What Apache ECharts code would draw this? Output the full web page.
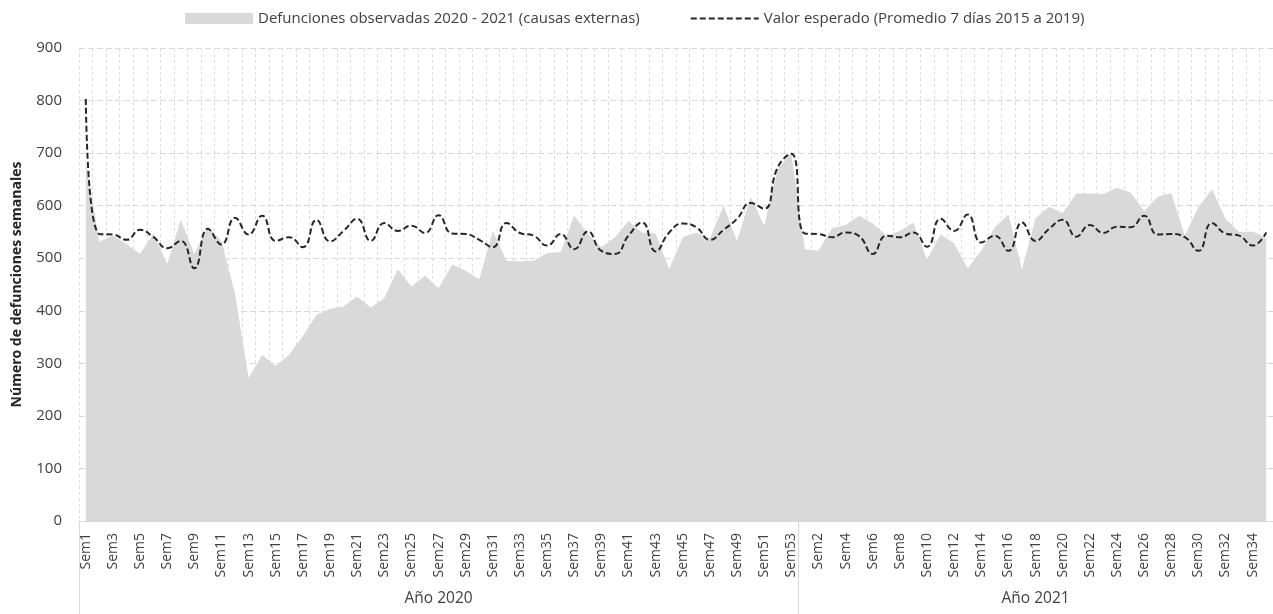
<!DOCTYPE html>
<html>
<head>
<meta charset="utf-8">
<script src="https://cdn.jsdelivr.net/npm/echarts@6/dist/echarts.min.js"></script>
<style>
  html, body { margin: 0; padding: 0; background: #fff; }
  #chart { width: 1273px; height: 614px; }
</style>
</head>
<body>
<div id="chart"></div>
<script>
// semanas epidemiologicas
const semanas2020 = ['Sem1','Sem2','Sem3','Sem4','Sem5','Sem6','Sem7','Sem8','Sem9','Sem10',
  'Sem11','Sem12','Sem13','Sem14','Sem15','Sem16','Sem17','Sem18','Sem19','Sem20',
  'Sem21','Sem22','Sem23','Sem24','Sem25','Sem26','Sem27','Sem28','Sem29','Sem30',
  'Sem31','Sem32','Sem33','Sem34','Sem35','Sem36','Sem37','Sem38','Sem39','Sem40',
  'Sem41','Sem42','Sem43','Sem44','Sem45','Sem46','Sem47','Sem48','Sem49','Sem50',
  'Sem51','Sem52','Sem53']
const semanas2021 = ['Sem1','Sem2','Sem3','Sem4','Sem5','Sem6','Sem7','Sem8','Sem9','Sem10',
  'Sem11','Sem12','Sem13','Sem14','Sem15','Sem16','Sem17','Sem18','Sem19','Sem20',
  'Sem21','Sem22','Sem23','Sem24','Sem25','Sem26','Sem27','Sem28','Sem29','Sem30',
  'Sem31','Sem32','Sem33','Sem34','Sem35']
const anios = ['Año 2020', 'Año 2021']

const observadas = [683,532,543,527,508,547,489,573,508,560,533,432,272,316,295,317,352,392,
  404,408,427,406,424,479,446,467,443,488,476,460,552,495,494,495,510,
  512,581,546,521,540,571,549,547,479,540,549,538,600,533,617,562,670,700,
  517,514,557,563,581,566,543,552,568,497,546,528,481,514,559,583,479,576,
  598,586,623,623,622,634,625,590,617,624,543,597,631,575,550,551,538]

const esperado = [803,546,545,535,554,540,519,533,481,556,526,577,545,581,533,540,521,573,
  532,552,575,533,567,552,562,548,582,547,546,535,521,567,548,543,524,
  546,517,551,514,508,543,568,513,549,566,559,535,554,575,605,594,673,699,
  547,546,540,549,542,508,543,540,549,522,575,552,583,530,543,514,568,533,
  556,573,541,563,548,560,559,581,545,546,540,514,567,547,543,524,549]

const categorias = semanas2020.concat(semanas2021)
const n2020 = semanas2020.length
const nTotal = categorias.length

const fuente = '"Open Sans", "Noto Sans", sans-serif'
const textColor = '#404040'

let chart = echarts.init(document.getElementById('chart'))

chart.setOption({
  animation: false,
  textStyle: { fontFamily: fuente, color: textColor },
  legend: {
    top: 11,
    left: 185,
    padding: 0,
    itemWidth: 68,
    itemHeight: 11,
    itemGap: 50,
    textStyle: { fontFamily: fuente, fontSize: 15, color: textColor },
    data: [
      { name: 'Defunciones observadas 2020 - 2021 (causas externas)', icon: 'rect' },
      // solo la linea discontinua, sin simbolo
      { name: 'Valor esperado (Promedio 7 días 2015 a 2019)', itemStyle: { opacity: 0 } }
    ]
  },
  grid: {
    left: 79,
    top: 48,
    width: 1196,
    height: 473
  },
  xAxis: [{
    type: 'category',
    data: categorias,
    boundaryGap: true,
    axisLine: { show: true, lineStyle: { color: '#d9d9d9' } },
    axisTick: { show: false },
    axisLabel: {
      interval: 1,
      rotate: 90,
      margin: 12,
      fontSize: 14,
      fontFamily: fuente,
      color: textColor
    },
    splitLine: {
      show: true,
      interval: 0,
      lineStyle: { color: '#dcdcdc', type: [3, 3], width: 1 }
    }
  }, {
    // segundo nivel: años
    type: 'value',
    position: 'bottom',
    min: 0,
    max: nTotal,
    axisLine: { show: false },
    splitLine: { show: false },
    axisTick: {
      show: true,
      customValues: [0, n2020, nTotal],
      length: 100,
      lineStyle: { color: '#d9d9d9', width: 1 }
    },
    axisLabel: {
      customValues: [n2020 / 2, n2020 + (nTotal - n2020) / 2],
      margin: 70,
      fontSize: 15.5,
      fontFamily: fuente,
      color: textColor,
      formatter: function (v) {
        return v < n2020 ? anios[0] : anios[1]
      }
    }
  }],
  yAxis: {
    type: 'value',
    min: 0,
    max: 900,
    interval: 100,
    name: 'Número de defunciones semanales',
    nameLocation: 'middle',
    nameGap: 55,
    nameTextStyle: {
      fontWeight: 'bold',
      fontSize: 14,
      fontFamily: fuente,
      color: '#262626'
    },
    axisLine: { show: false },
    axisTick: { show: false },
    axisLabel: { fontSize: 15, margin: 17, fontFamily: fuente, color: textColor },
    splitLine: {
      lineStyle: { color: '#d9d9d9', type: [6, 3], width: 1 }
    }
  },
  series: [{
    name: 'Defunciones observadas 2020 - 2021 (causas externas)',
    type: 'line',
    xAxisIndex: 0,
    data: observadas,
    symbol: 'none',
    itemStyle: { color: '#d9d9d9' },
    lineStyle: { width: 0, color: '#d9d9d9' },
    areaStyle: { color: '#d9d9d9', opacity: 1 },
    z: 1
  }, {
    name: 'Valor esperado (Promedio 7 días 2015 a 2019)',
    type: 'line',
    xAxisIndex: 0,
    data: esperado,
    smooth: 0.5,
    symbol: 'none',
    itemStyle: { color: '#262626' },
    lineStyle: { color: '#262626', width: 2, type: [6, 3] },
    z: 3
  }]
})
</script>
</body>
</html>
